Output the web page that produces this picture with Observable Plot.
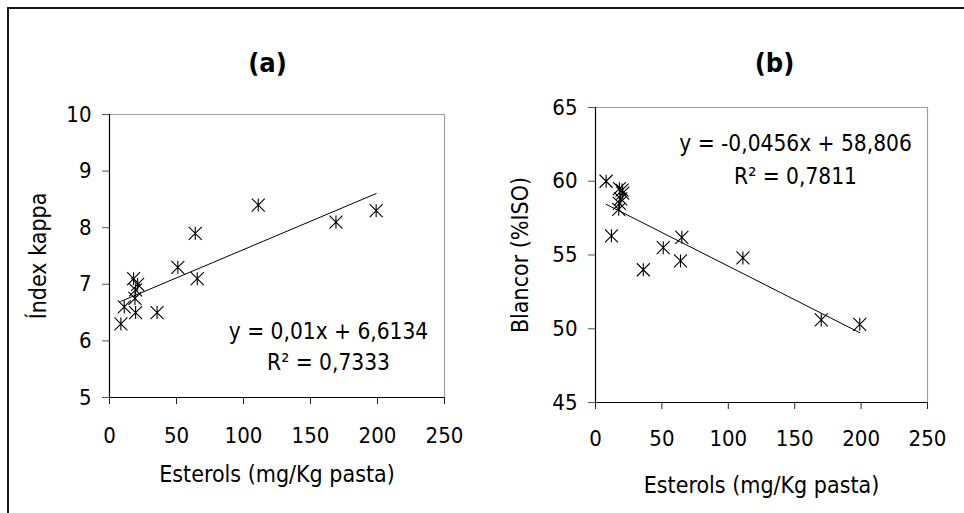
<!DOCTYPE html>
<html><head><meta charset="utf-8">
<script src="https://cdn.jsdelivr.net/npm/d3@7"></script>
<script src="https://cdn.jsdelivr.net/npm/@observablehq/plot@0.6"></script>
<style>
html,body{margin:0;padding:0;background:#fff;}
#wrap{position:relative;width:964px;height:513px;overflow:hidden;background:#fff;}
#border{position:absolute;left:7px;top:7px;width:1000px;height:600px;border-left:2px solid #1a1a1a;border-top:2px solid #1a1a1a;z-index:5;}
#pa{position:absolute;left:0;top:0;}
#pb{position:absolute;left:480px;top:0;}
svg text{font-stretch:condensed;}
</style></head><body>
<div id="wrap"><div id="pa"></div><div id="pb"></div><div id="border"></div></div>
<script>
// ---- data ----
const esterolsA = [8.5, 11, 18, 21, 19.5, 19, 19.5, 35.5, 51, 64, 65.5, 111, 169, 199];
const kappa     = [6.3, 6.6, 7.1, 7.0, 6.9, 6.75, 6.5, 6.5, 7.3, 7.9, 7.1, 8.4, 8.1, 8.3];
const esterolsB = [8, 12, 18, 20, 20.5, 19, 18, 17.5, 36, 51, 64, 65, 111, 170, 199];
const blancor   = [60.0, 56.3, 59.5, 59.4, 59.2, 58.8, 58.5, 58.1, 54.0, 55.5, 54.6, 56.2, 54.8, 50.6, 50.3];
const xTicks  = [0, 50, 100, 150, 200, 250];
const yTicksA = [5, 6, 7, 8, 9, 10];
const yTicksB = [45, 50, 55, 60, 65];
const fitA = {slope: 0.01, intercept: 6.6134};
const fitB = {slope: -0.0456, intercept: 58.806};
const titleA = "(a)", titleB = "(b)";
const eqA = "y = 0,01x + 6,6134", r2A = "R² = 0,7333";
const eqB = "y = -0,0456x + 58,806", r2B = "R² = 0,7811";
const xLabel = "Esterols (mg/Kg pasta)";
const yLabelA = "Índex kappa", yLabelB = "Blancor (%ISO)";

const FONT = "'DejaVu Sans Condensed', 'DejaVu Sans', sans-serif";
const star = {
  draw(ctx, size) {
    const h = Math.sqrt(size / Math.PI);
    ctx.moveTo(-h, -h); ctx.lineTo(h, h);
    ctx.moveTo(h, -h); ctx.lineTo(-h, h);
    ctx.moveTo(0, -h); ctx.lineTo(0, h);
  }
};

function panel(o) {
  const data = o.xs.map((x, i) => ({x, y: o.ys[i]}));
  const ext = d3.extent(o.xs);
  const fitLine = ext.map(x => ({x, y: o.fit.slope * x + o.fit.intercept}));
  return Plot.plot({
    width: o.width, height: 513,
    marginLeft: o.ml, marginRight: o.mr, marginTop: o.mt, marginBottom: o.mb,
    style: {fontFamily: FONT, fontSize: "22px", background: "transparent", color: "black"},
    x: {domain: [0, 250]},
    y: {domain: o.yDomain},
    marks: [
      Plot.ruleY([o.yDomain[1]], {stroke: "#a0a0a0", strokeWidth: 1.2}),
      Plot.ruleX([250], {stroke: "#a0a0a0", strokeWidth: 1.2}),
      Plot.axisX({ticks: xTicks, tickFormat: d => String(d), tickSize: 7, tickPadding: o.xPad, label: null, fontSize: 22, stroke: "#222"}),
      Plot.axisY({ticks: o.yTicks, tickFormat: d => String(d), tickSize: 7, tickPadding: 11, label: null, fontSize: 22, stroke: "#555"}),
      Plot.ruleX([0], {stroke: "black", strokeWidth: 1.2}),
      Plot.ruleY([o.yDomain[0]], {stroke: "black", strokeWidth: 1.2}),
      Plot.line(fitLine, {x: "x", y: "y", stroke: "black", strokeWidth: 1}),
      Plot.dot(data, {x: "x", y: "y", symbol: star, r: 6.5, stroke: "black", fill: "none", strokeWidth: 1.1}),
      Plot.text([o.title], {frameAnchor: "top-left", dx: o.tdx, dy: o.tdy, text: d => d, textAnchor: "middle", lineAnchor: "middle", fontWeight: "bold", fontSize: 27}),
      Plot.text([o.eq], {frameAnchor: "top-left", dx: o.edx, dy: o.edy1, text: d => d, textAnchor: "middle", lineAnchor: "middle", fontSize: 22.5}),
      Plot.text([o.r2], {frameAnchor: "top-left", dx: o.edx, dy: o.edy2, text: d => d, textAnchor: "middle", lineAnchor: "middle", fontSize: 22.5}),
      Plot.text([xLabel], {frameAnchor: "bottom", dy: o.xldy, text: d => d, textAnchor: "middle", lineAnchor: "middle", fontSize: 23}),
      Plot.text([o.yLabel], {frameAnchor: "left", dx: o.yldx, rotate: -90, text: d => d, textAnchor: "middle", lineAnchor: "middle", fontSize: 23})
    ]
  });
}

document.getElementById("pa").append(panel({
  xs: esterolsA, ys: kappa, fit: fitA, yDomain: [5, 10], yTicks: yTicksA,
  width: 480, ml: 109, mr: 36, mt: 114, mb: 116, xPad: 23,
  title: titleA, tdx: 158, tdy: -51,
  eq: eqA, r2: r2A, edx: 219, edy1: 217, edy2: 248,
  xldy: 77, yLabel: yLabelA, yldx: -71
}));
document.getElementById("pb").append(panel({
  xs: esterolsB, ys: blancor, fit: fitB, yDomain: [45, 65], yTicks: yTicksB,
  width: 484, ml: 115, mr: 37, mt: 107, mb: 111, xPad: 21,
  title: titleB, tdx: 179, tdy: -44,
  eq: eqB, r2: r2B, edx: 200, edy1: 36, edy2: 69,
  xldy: 83, yLabel: yLabelB, yldx: -75
}));
</script>
</body></html>
